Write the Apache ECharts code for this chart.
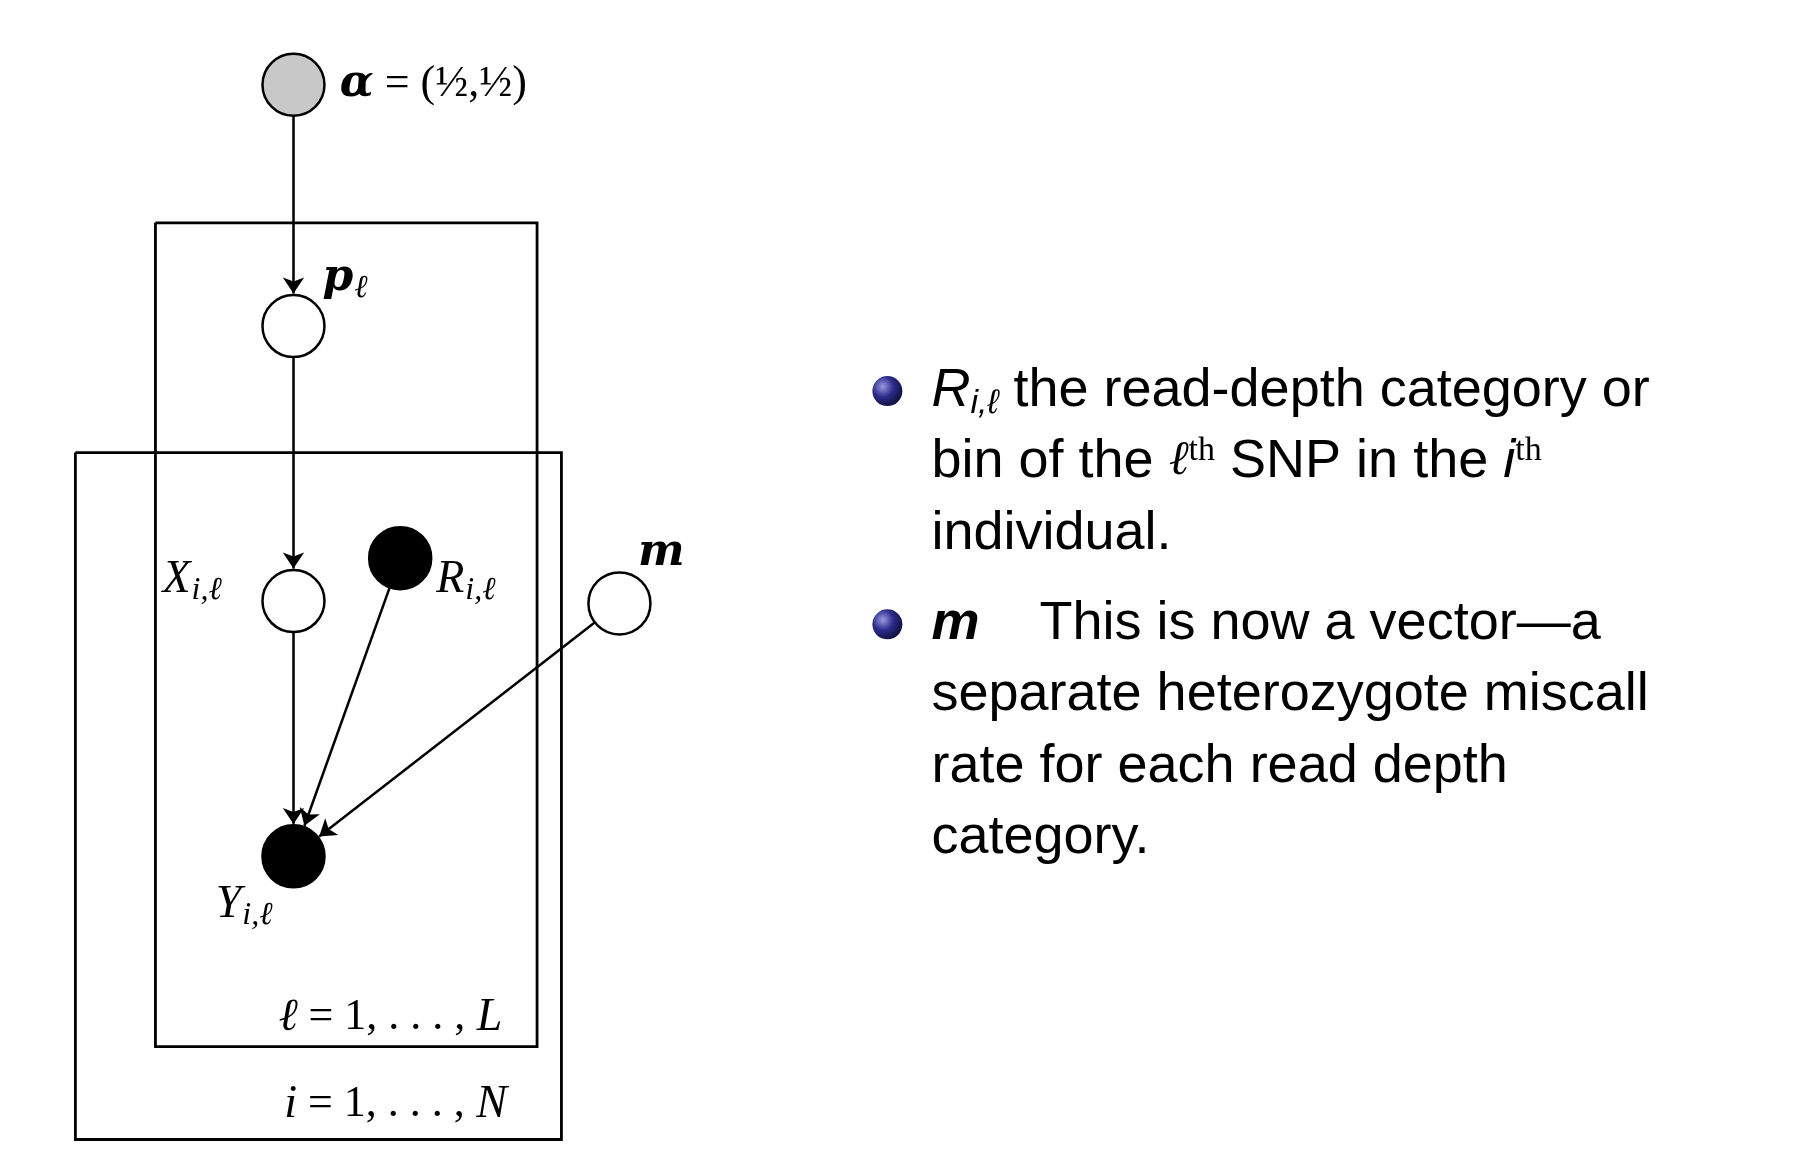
<!DOCTYPE html>
<html>
<head>
<meta charset="UTF-8">
<script src="https://cdn.jsdelivr.net/npm/echarts@6/dist/echarts.min.js"></script>
<style>
  html, body { margin: 0; background: #fff; }
  #chart { width: 1820px; height: 1172px; }
</style>
</head>
<body>
<div id="chart"></div>
<script>
  // node positions in diagram units (x right, y down)
  const nodeNames = ['alpha', 'p', 'X', 'R', 'm', 'Y'];
  const nodeX = [253, 253, 253, 345, 534, 253];
  const nodeY = [73, 281, 518, 481, 520, 738];
  const nodeFill = ['#c8c8c8', '#fff', '#fff', '#000', '#fff', '#000'];
  const edges = [['alpha', 'p'], ['p', 'X'], ['X', 'Y'], ['R', 'Y'], ['m', 'Y']];
  // plates: [x0, y0, x1, y1]
  const plates = [
    [134, 192, 463, 902],
    [65, 390, 484, 982]
  ];
  const bulletY = [337, 538];
  const textLines = [
    '{it|R}{sub|i,ℓ} the read-depth category or',
    'bin of the {sv|ℓ}{sup|th} SNP in the {it|i}{sup|th}',
    'individual.',
    '{bi|m}    This is now a vector—a',
    'separate heterozygote miscall',
    'rate for each read depth',
    'category.'
  ];
  const textY = [337, 398, 460, 538, 599, 661, 722];

  const R = 27;
  const idx = n => nodeNames.indexOf(n);
  const serif = '"DejaVu Serif", "Liberation Serif", serif';
  const lserif = '"Liberation Serif", serif';
  const sans = '"Liberation Sans", Arial, sans-serif';

  const edgeData = edges.map(([a, b]) => {
    const ax = nodeX[idx(a)], ay = nodeY[idx(a)], bx = nodeX[idx(b)], by = nodeY[idx(b)];
    const d = Math.hypot(bx - ax, by - ay);
    const ux = (bx - ax) / d, uy = (by - ay) / d;
    return { coords: [[ax + ux * R, ay + uy * R], [bx - ux * (R + 1), by - uy * (R + 1)]] };
  });
  const plateLines = plates.map(p => ({ coords: [[p[0], p[1]], [p[2], p[1]], [p[2], p[3]], [p[0], p[3]], [p[0], p[1]]] }));

  const mathLabels = [
    { x: 293, y: 73, t: '{b|α} {r|= (}{f|½}{r|,}{f|½}{r|)}' },
    { x: 278, y: 240, t: '{b|p}{s|ℓ}' },
    { x: 140, y: 500, t: '{i|X}{s|i,ℓ}' },
    { x: 376, y: 500, t: '{i|R}{s|i,ℓ}' },
    { x: 550, y: 477, t: '{b|m}' },
    { x: 186, y: 780, t: '{i|Y}{s|i,ℓ}' },
    { x: 240, y: 877, t: '{i|ℓ}{r| = 1, . . . ,}{i| L}' },
    { x: 245, y: 952, t: '{i|i}{r| = 1, . . . ,}{i| N}' }
  ];
  const mathRich = {
    i: { fontFamily: lserif, fontSize: 46, fontStyle: 'italic', color: '#000' },
    r: { fontFamily: lserif, fontSize: 44, color: '#000' },
    b: { fontFamily: serif, fontSize: 44, fontWeight: 'bold', fontStyle: 'italic', color: '#000' },
    f: { fontFamily: lserif, fontSize: 44, color: '#000' },
    s: { fontFamily: lserif, fontSize: 32, fontStyle: 'italic', color: '#000', padding: [20, 0, 0, 1] }
  };

  const chart = echarts.init(document.getElementById('chart'));
  chart.setOption({
    animation: false,
    grid: { left: 0, right: 0, top: 0, bottom: 0 },
    xAxis: { type: 'value', min: 0, max: 1569, show: false },
    yAxis: { type: 'value', min: 0, max: 1010, inverse: true, show: false },
    series: [
      {
        type: 'lines', coordinateSystem: 'cartesian2d', polyline: true, silent: true,
        lineStyle: { color: '#000', width: 2.8, opacity: 1 },
        data: plateLines
      },
      {
        type: 'lines', coordinateSystem: 'cartesian2d', silent: true,
        symbol: ['none', 'arrow'], symbolSize: 16,
        lineStyle: { color: '#000', width: 2.5, opacity: 1 },
        data: edgeData
      },
      {
        type: 'scatter', symbolSize: 62, z: 5,
        itemStyle: { borderColor: '#000', borderWidth: 2.5, opacity: 1 },
        data: nodeNames.map((n, i) => ({ value: [nodeX[i], nodeY[i]], itemStyle: { color: nodeFill[i] } }))
      },
      {
        type: 'scatter', symbolSize: 0, z: 6,
        itemStyle: { opacity: 1 },
        label: {
          show: true, position: 'right', distance: 0,
          fontFamily: lserif, fontSize: 44, color: '#000',
          rich: mathRich,
          formatter: p => mathLabels[p.dataIndex].t
        },
        data: mathLabels.map(l => [l.x, l.y])
      },
      {
        type: 'scatter', symbolSize: 30, z: 5,
        itemStyle: {
          opacity: 1,
          color: { type: 'radial', x: 0.35, y: 0.35, r: 0.7,
            colorStops: [{ offset: 0, color: '#9a9ae0' }, { offset: 0.5, color: '#2c2c8c' }, { offset: 1, color: '#10103c' }] }
        },
        data: bulletY.map(y => [765, y])
      },
      {
        type: 'scatter', symbolSize: 0, z: 6,
        itemStyle: { opacity: 1 },
        label: {
          show: true, position: 'right', distance: 0,
          fontFamily: sans, fontSize: 54, color: '#000',
          rich: {
            it: { fontFamily: sans, fontSize: 54, fontStyle: 'italic', color: '#000' },
            bi: { fontFamily: sans, fontSize: 54, fontStyle: 'italic', fontWeight: 'bold', color: '#000' },
            sub: { fontFamily: sans, fontSize: 34, fontStyle: 'italic', color: '#000', padding: [24, 0, 0, 0] },
            sv: { fontFamily: lserif, fontSize: 48, fontStyle: 'italic', color: '#000' },
            sup: { fontFamily: lserif, fontSize: 34, color: '#000', padding: [0, 0, 22, 0] }
          },
          formatter: p => textLines[p.dataIndex]
        },
        data: textY.map(y => [803, y])
      }
    ]
  });
</script>
</body>
</html>
